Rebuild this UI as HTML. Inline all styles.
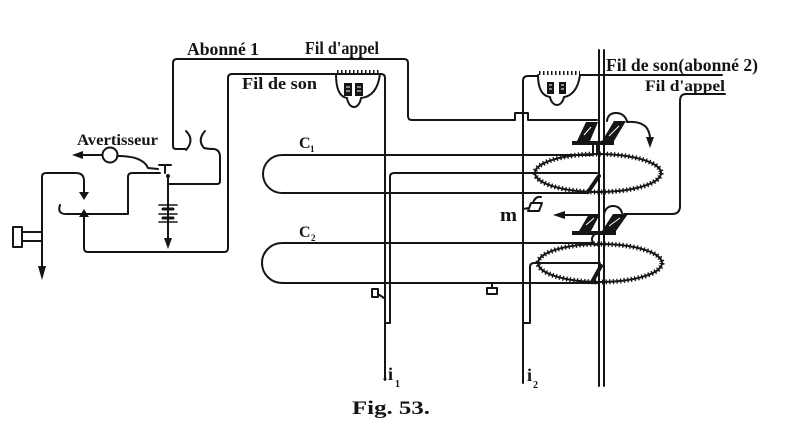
<!DOCTYPE html>
<html>
<head>
<meta charset="utf-8">
<style>
html,body{margin:0;padding:0;background:#fff;}
svg{display:block;}
text{font-family:"Liberation Serif",serif;font-weight:bold;fill:#151515;}
</style>
</head>
<body>
<svg width="791" height="432" viewBox="0 0 791 432" xmlns="http://www.w3.org/2000/svg">
<g fill="none" stroke="#151515" stroke-width="2" stroke-linecap="round" stroke-linejoin="round">
  <!-- Abonné 1 / Fil d'appel wire -->
  <path d="M186,149 L176,149 Q173,149 173,146 L173,63 Q173,59 177,59 L404,59 Q408,59 408,63 L408,116 Q408,120 412,120 L515,120 L515,113 L528,113 L528,120 L597,120"/>
  <!-- capacitor ) ( -->
  <path d="M186,131 Q195,140 186,150"/>
  <path d="M205,131 Q197,140 204,148 Q208,149 214,149 Q220,150 220,157 L220,181 Q220,184 217,184 L168,184"/>
  <!-- battery -->
  <path d="M168,176 L168,242"/>
  <path d="M159,205 L177,205 M159,214 L177,214 M159,222 L177,222" stroke-width="1.6"/>
  <path d="M163,209 L173,209 M163,218 L173,218" stroke-width="3"/>
  <!-- Fil de son abonné 1 -->
  <path d="M336,74 L232,74 Q228,74 228,78 L228,248 Q228,252 224,252 L88,252 Q84,252 84,248 L84,216"/>
  <!-- lever -->
  <path d="M42,268 L42,177 Q42,173 46,173 L76,173 Q84,173 84,181 L84,192"/>
  <!-- hook and contact wire -->
  <path d="M60,205 Q57,214 66,214 L128,214 L128,177 Q128,173 132,173 L160,173"/>
  <!-- key -->
  <rect x="13" y="227" width="9" height="20"/>
  <path d="M22,232 L42,232 M22,241 L42,241"/>
  <!-- avertisseur -->
  <circle cx="110" cy="155" r="7.5"/>
  <path d="M102,155 L80,155"/>
  <path d="M117,156 Q133,156 140,160 Q146,163 148,168 L158,169"/>
  <path d="M159,165 L171,165 M165,165 L165,173"/>
  <!-- left coil -->
  <path d="M336,74 L381,74"/>
  <path d="M337,72 L380,72" stroke-width="4" stroke-dasharray="1.5 2.5" stroke-linecap="butt"/>
  <path d="M336,74 C336,90 340,97 347,98 C348,104 351,107 354,107 C357,107 360,104 361,98 C371,97 378,90 380,74"/>
  <path d="M381,74 Q385,74 385,78 L385,380"/>
  <!-- right coil -->
  <path d="M538,76 L528,76 Q523,76 523,81 L523,383"/>
  <path d="M539,73 L580,73" stroke-width="4" stroke-dasharray="1.5 2.5" stroke-linecap="butt"/>
  <path d="M538,75 C538,90 543,96 550,97 C551,102 554,105 557,105 C560,105 563,102 564,97 C571,96 578,90 580,75"/>
  <path d="M580,75 L722,75"/>
  <!-- inner lines -->
  <path d="M597,173 L394,173 Q390,173 390,177 L390,323 L386,323"/>
  <path d="M600,263 L534,263 Q530,263 530,267 L530,323 L524,323"/>
  <!-- C loops -->
  <path d="M592,155 L282,155 A19,19 0 0 0 282,193 L586,193"/>
  <path d="M593,243 L282,243 A20,20 0 0 0 282,283 L598,283"/>
  <!-- ellipses -->
  <ellipse cx="598" cy="173" rx="63" ry="19"/>
  <ellipse cx="598" cy="173" rx="63" ry="19" stroke-width="5" stroke-dasharray="1.3 2.3" stroke-linecap="butt"/>
  <ellipse cx="600" cy="263" rx="62" ry="19"/>
  <ellipse cx="600" cy="263" rx="62" ry="19" stroke-width="5" stroke-dasharray="1.3 2.3" stroke-linecap="butt"/>
  <path d="M599,176 L588,192" stroke-width="4"/>
  <path d="M601,266 L592,282" stroke-width="4"/>
  <!-- double vertical -->
  <path d="M599,50 L599,386 M604,50 L604,386"/>
  <!-- Fil d'appel abonné 2 -->
  <path d="M680,206 L680,101 Q680,94 686,94 L725,94"/>
  <path d="M680,206 Q680,214 672,214 L624,214"/>
  <path d="M590,215 L562,215"/>
  <!-- armature 1 arcs / arrow -->
  <path d="M607,121 Q608,113 616,113 Q624,113 627,121"/>
  <path d="M627,122 Q640,121 646,127 Q650,132 650,139"/>
  <path d="M593,145 L593,153 M597,145 L597,153"/>
  <!-- armature 2 arcs -->
  <path d="M604,214 Q606,206 613,206 Q620,206 622,213"/>
  <path d="M594,235 Q589,240 596,245"/>
  <!-- gadgets -->
  <rect x="372" y="289" width="6" height="8"/>
  <path d="M378,294 L384,298"/>
  <rect x="487" y="288" width="10" height="6"/>
  <path d="M492,283 L492,288"/>
  <path d="M523,209 L529,208"/>
  <path d="M528,211 L539,211 L542,203 L531,203 Z"/>
  <path d="M533,203 Q535,196 541,197"/>
</g>
<g fill="#151515" stroke="none">
  <!-- arrowheads -->
  <polygon points="38,266 46,266 42,280"/>
  <polygon points="164,238 172,238 168,249"/>
  <polygon points="83,151 83,159 72,155"/>
  <polygon points="646,137 654,137 650,148"/>
  <polygon points="565,211 565,219 553,215"/>
  <!-- contact triangles -->
  <polygon points="79,192 89,192 84,200"/>
  <polygon points="79,217 89,217 84,209"/>
  <!-- left coil magnets -->
  <rect x="344" y="83" width="8" height="13"/>
  <rect x="355" y="83" width="8" height="13"/>
  <!-- right coil magnets -->
  <rect x="547" y="82" width="7" height="12"/>
  <rect x="559" y="82" width="7" height="12"/>
  <!-- battery dot -->
  <circle cx="168" cy="176" r="2"/>
  <circle cx="385" cy="379" r="1.5"/>
  <!-- armature 1 -->
  <rect x="572" y="141" width="42" height="4"/>
  <polygon points="577,141 590,141 598,122 586,122"/>
  <polygon points="602,141 614,141 626,121 614,121"/>
  <!-- armature 2 -->
  <rect x="572" y="231" width="44" height="4"/>
  <polygon points="579,231 591,231 600,214 589,214"/>
  <polygon points="602,231 616,231 628,214 613,214"/>
</g>
<g stroke="#fff" stroke-width="1" fill="none">
  <path d="M346,87 L350,87 M346,91 L350,91 M357,87 L361,87 M357,91 L361,91"/>
  <path d="M549,85 L552,85 M549,89 L552,89 M561,85 L564,85 M561,89 L564,89"/>
  <path d="M584,135 L591,127 M609,136 L619,126 M586,225 L594,218 M609,226 L620,218"/>
</g>
<!-- labels -->
<text x="187" y="55" font-size="18" textLength="72" lengthAdjust="spacingAndGlyphs">Abonné 1</text>
<text x="305" y="54" font-size="18" textLength="74" lengthAdjust="spacingAndGlyphs">Fil d'appel</text>
<text x="242" y="89" font-size="17" textLength="75" lengthAdjust="spacingAndGlyphs">Fil de son</text>
<text x="77" y="145" font-size="16" textLength="81" lengthAdjust="spacingAndGlyphs">Avertisseur</text>
<text x="606" y="71" font-size="18" textLength="152" lengthAdjust="spacingAndGlyphs">Fil de son(abonné 2)</text>
<text x="645" y="91" font-size="16" textLength="80" lengthAdjust="spacingAndGlyphs">Fil d'appel</text>
<text x="299" y="148" font-size="16">C</text><text x="310" y="152" font-size="9">1</text>
<text x="299" y="237" font-size="16">C</text><text x="311" y="241" font-size="9">2</text>
<text x="500" y="221" font-size="19" textLength="17" lengthAdjust="spacingAndGlyphs">m</text>
<text x="388" y="380" font-size="18">i</text><text x="395" y="387" font-size="10">1</text>
<text x="527" y="381" font-size="18">i</text><text x="533" y="388" font-size="10">2</text>
<text x="352" y="414" font-size="19" textLength="78" lengthAdjust="spacingAndGlyphs">Fig.  53.</text>
</svg>
</body>
</html>
